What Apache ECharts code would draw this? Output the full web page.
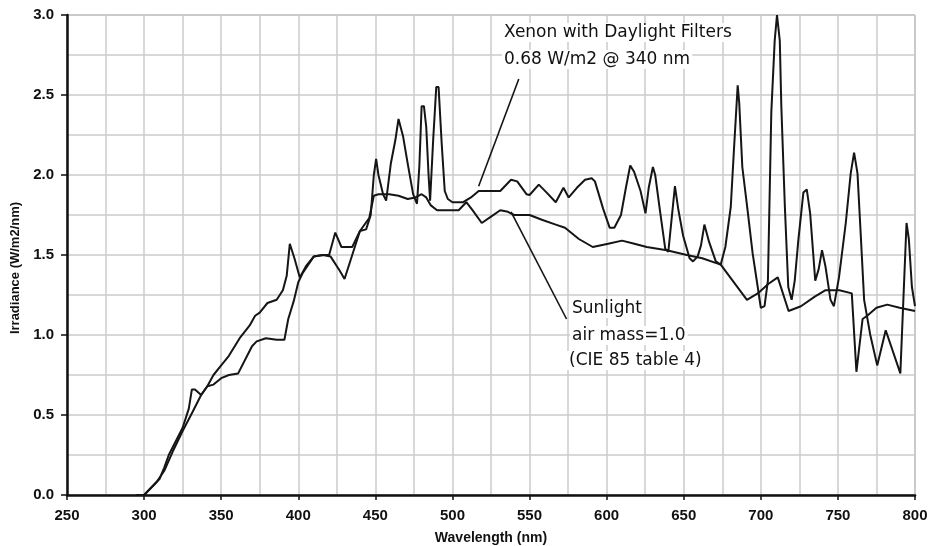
<!DOCTYPE html>
<html>
<head>
<meta charset="utf-8">
<script src="https://cdn.jsdelivr.net/npm/echarts@6/dist/echarts.min.js"></script>
<style>
html,body{margin:0;padding:0;background:#fff;}
#chart{width:930px;height:546px;}
</style>
</head>
<body>
<div id="chart"></div>
<script>
// ---- data ----
var sunWavelength = [295,300,310,313,316,325,329,331,333,337,341,345,350,355,361,370,373,379,386,391,393.5,397,400,403,410,416,421,427,430,435,440,446,449,452,459,465,471,476,480,483,486,490,497,504,509,513,519,525,531,536,540,550,558,567,573,582,591,601,610,618,626,639,652,662,674,691,698,705,711,718,726,735,742,751,759,762,766,769,775,782,790,800];
var sunIrradiance = [0,0,0.10,0.17,0.25,0.42,0.54,0.66,0.66,0.625,0.68,0.69,0.73,0.75,0.76,0.93,0.96,0.98,0.97,0.97,1.10,1.21,1.33,1.39,1.49,1.50,1.49,1.40,1.35,1.50,1.65,1.73,1.87,1.88,1.88,1.87,1.85,1.86,1.88,1.86,1.81,1.78,1.78,1.78,1.83,1.78,1.70,1.74,1.78,1.77,1.75,1.75,1.72,1.69,1.67,1.60,1.55,1.57,1.59,1.57,1.55,1.53,1.50,1.48,1.44,1.22,1.26,1.32,1.36,1.15,1.18,1.24,1.28,1.28,1.26,0.77,1.10,1.12,1.17,1.19,1.17,1.15];

var xenonWavelength = [295,300,308,313,318.5,325,331.5,337,341,345,350,355,362,368.5,372,375,380,386,390,392.5,394.5,397.5,401,405,410,416,420,424,428,435,440,444,447,449,450.5,452,455,457,460,463,465,468,471,474.5,477,478.5,480,481.5,483,484.5,485.5,487.5,489.5,491,493,495,497,500,507,512,517,531,538,542,548,550,556,561.6,567,572,575.4,580.7,586,590.3,592.4,597.7,602,605,609.3,612.5,615.3,617.8,622,625.2,627.3,630,631.5,634.7,638,640,642.2,644.3,646.4,649.6,653.8,656,659,661.2,663.4,666.5,670.8,674,677,680.5,682.7,685,686,688,691.4,694.7,698,700,702.4,704.6,706.8,709,710.5,712.3,713.3,715.6,717.8,720,722,724.3,727.6,729.8,732,735.3,737.5,739.7,741.9,745.2,747.4,750.7,755.1,758.3,760.5,762.7,764.9,767,771,775.5,781,790.5,794.5,796,798,800];
var xenonIrradiance = [0,0,0.08,0.15,0.27,0.40,0.52,0.625,0.68,0.75,0.81,0.87,0.98,1.06,1.12,1.14,1.20,1.22,1.28,1.37,1.57,1.48,1.36,1.43,1.49,1.50,1.50,1.64,1.55,1.55,1.65,1.66,1.75,2.0,2.1,2.0,1.88,1.84,2.07,2.22,2.35,2.24,2.07,1.88,1.82,2.05,2.43,2.43,2.30,2.0,1.84,2.22,2.55,2.55,2.2,1.9,1.85,1.83,1.83,1.86,1.9,1.9,1.97,1.96,1.88,1.875,1.94,1.885,1.83,1.92,1.86,1.92,1.97,1.98,1.96,1.79,1.67,1.67,1.75,1.92,2.06,2.02,1.9,1.76,1.92,2.05,2.0,1.77,1.54,1.52,1.73,1.93,1.79,1.62,1.48,1.46,1.49,1.56,1.69,1.58,1.46,1.44,1.55,1.80,2.18,2.56,2.45,2.05,1.78,1.51,1.30,1.17,1.18,1.34,2.39,2.84,3.0,2.84,2.43,1.80,1.30,1.22,1.34,1.59,1.89,1.91,1.76,1.34,1.41,1.53,1.43,1.22,1.18,1.36,1.70,2.01,2.14,2.01,1.61,1.22,1.0,0.81,1.03,0.76,1.70,1.6,1.3,1.18];

// annotation leader lines (data coordinates)
var xenonLeaderWl = [517, 543];
var xenonLeaderVal = [1.93, 2.60];
var sunLeaderWl = [538, 574];
var sunLeaderVal = [1.77, 1.10];

var xTicks = [250,300,350,400,450,500,550,600,650,700,750,800];
var yTicks = ['0.0','0.5','1.0','1.5','2.0','2.5','3.0'];

function pairs(a, b){ return a.map(function(v,i){ return [v, b[i]]; }); }

var chart = echarts.init(document.getElementById('chart'));
var lineCol = '#151515';
var gridCol = '#cbcbcb';
var labelFont = '17px "DejaVu Sans"';
function note(x, y, t){
  return { type: 'text', left: x, top: y, z: 10,
    style: { text: t, font: labelFont, fill: '#111', backgroundColor: '#ffffff', padding: [1, 2, 1, 2] } };
}
var option = {
  animation: false,
  backgroundColor: '#ffffff',
  grid: { left: 67, right: 15, top: 15, bottom: 51, containLabel: false, outerBoundsMode: 'none',
    show: true, borderColor: '#8a8a8a', borderWidth: 1 },
  xAxis: {
    type: 'value', min: 250, max: 800, interval: 50,
    name: 'Wavelength (nm)', nameLocation: 'middle', nameGap: 36,
    nameTextStyle: { fontFamily: 'Liberation Sans', fontSize: 14, fontWeight: 'bold', color: '#111' },
    axisLine: { show: true, lineStyle: { color: '#111', width: 2.5 } },
    axisTick: { show: true, inside: false, length: 5, lineStyle: { color: '#111', width: 1.5 } },
    axisLabel: { fontFamily: 'Liberation Sans', fontSize: 15, fontWeight: 'bold', color: '#111', margin: 13,
      formatter: function(v){ return xTicks.indexOf(v) >= 0 ? String(v) : ''; } },
    splitLine: { show: true, lineStyle: { color: gridCol, width: 1.5 } },
    minorTick: { show: false, splitNumber: 2 },
    minorSplitLine: { show: true, lineStyle: { color: gridCol, width: 1.5 } }
  },
  yAxis: {
    type: 'value', min: 0, max: 3, interval: 0.5,
    name: 'Irradiance (W/m2/nm)', nameLocation: 'middle', nameGap: 45,
    nameTextStyle: { fontFamily: 'Liberation Sans', fontSize: 13, fontWeight: 'bold', color: '#111', padding: [0, 26, 0, 0] },
    axisLine: { show: true, lineStyle: { color: '#111', width: 2.5 } },
    axisTick: { show: true, inside: false, length: 6, lineStyle: { color: '#111', width: 1.5 } },
    axisLabel: { fontFamily: 'Liberation Sans', fontSize: 15, fontWeight: 'bold', color: '#111', margin: 13,
      formatter: function(v){ return yTicks[Math.round(v / 0.5)]; } },
    splitLine: { show: true, lineStyle: { color: gridCol, width: 1.5 } },
    minorTick: { show: false, splitNumber: 2 },
    minorSplitLine: { show: true, lineStyle: { color: gridCol, width: 1.5 } }
  },
  series: [
    { name: 'Sunlight', type: 'line', data: pairs(sunWavelength, sunIrradiance), showSymbol: false,
      lineStyle: { color: lineCol, width: 2 }, z: 3 },
    { name: 'Xenon', type: 'line', data: pairs(xenonWavelength, xenonIrradiance), showSymbol: false,
      lineStyle: { color: lineCol, width: 2 }, z: 3 },
    { name: 'xenonLeader', type: 'line', data: pairs(xenonLeaderWl, xenonLeaderVal), showSymbol: false,
      lineStyle: { color: lineCol, width: 1.6 }, z: 4 },
    { name: 'sunLeader', type: 'line', data: pairs(sunLeaderWl, sunLeaderVal), showSymbol: false,
      lineStyle: { color: lineCol, width: 1.6 }, z: 4 }
  ],
  graphic: [
    note(502, 23, 'Xenon with Daylight Filters'),
    note(502, 50, '0.68 W/m2 @ 340 nm'),
    note(570, 299, 'Sunlight'),
    note(570, 326, 'air mass=1.0'),
    note(567, 351, '(CIE 85 table 4)')
  ]
};
chart.setOption(option);
</script>
</body>
</html>
